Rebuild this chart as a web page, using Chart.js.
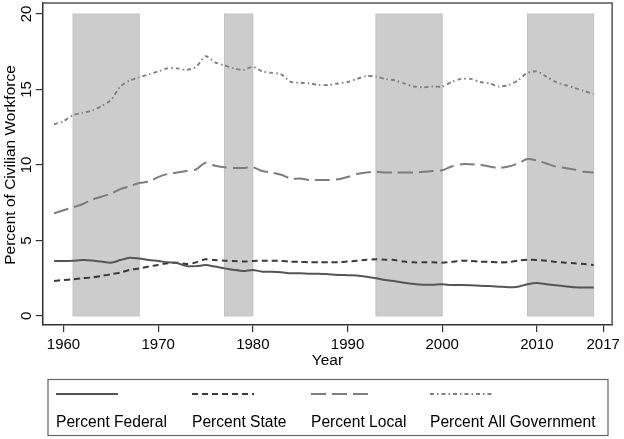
<!DOCTYPE html>
<html>
<head>
  <meta charset="UTF-8">
  <title>Government Employment</title>
  <script src="https://cdn.jsdelivr.net/npm/chart.js"></script>
  <style>
    body { margin: 0; background: #fff; }
  </style>
</head>
<body>
  <canvas id="govChart" width="624" height="439"></canvas>

  <script>
    const years = [];
    for (let y = 1959; y <= 2016; y++) years.push(y);

    const federal = [3.64, 3.64, 3.66, 3.70, 3.68, 3.60, 3.53, 3.70, 3.86, 3.80,
      3.70, 3.64, 3.55, 3.50, 3.30, 3.30, 3.37, 3.27, 3.15, 3.05,
      2.98, 3.05, 2.93, 2.93, 2.90, 2.83, 2.83, 2.80, 2.80, 2.76,
      2.72, 2.70, 2.68, 2.60, 2.50, 2.38, 2.30, 2.20, 2.12, 2.07,
      2.07, 2.10, 2.05, 2.05, 2.03, 2.00, 1.98, 1.94, 1.90, 1.94,
      2.10, 2.18, 2.10, 2.03, 1.96, 1.90, 1.88, 1.88];
    const state = [2.32, 2.38, 2.43, 2.50, 2.55, 2.65, 2.76, 2.87, 3.05, 3.15,
      3.27, 3.38, 3.49, 3.53, 3.44, 3.55, 3.75, 3.70, 3.66, 3.64,
      3.60, 3.64, 3.66, 3.66, 3.64, 3.60, 3.58, 3.56, 3.56, 3.55,
      3.56, 3.60, 3.66, 3.73, 3.75, 3.73, 3.70, 3.60, 3.55, 3.55,
      3.55, 3.53, 3.58, 3.66, 3.64, 3.60, 3.58, 3.55, 3.56, 3.66,
      3.73, 3.71, 3.66, 3.58, 3.53, 3.49, 3.44, 3.38];
    const local = [6.8, 7.0, 7.2, 7.4, 7.7, 7.9, 8.1, 8.4, 8.6, 8.8,
      8.9, 9.2, 9.4, 9.5, 9.6, 9.7, 10.15, 9.95, 9.85, 9.8,
      9.8, 9.85, 9.6, 9.5, 9.35, 9.1, 9.1, 9.0, 9.0, 9.0,
      9.05, 9.2, 9.4, 9.5, 9.55, 9.5, 9.5, 9.5, 9.5, 9.55,
      9.6, 9.65, 9.9, 10.05, 10.05, 10.0, 9.9, 9.8, 9.9, 10.1,
      10.4, 10.3, 10.1, 9.9, 9.8, 9.7, 9.55, 9.5];
    const allGov = [12.7, 12.9, 13.3, 13.45, 13.6, 13.9, 14.3, 15.2, 15.6, 15.8,
      16.0, 16.2, 16.4, 16.4, 16.3, 16.5, 17.2, 16.8, 16.6, 16.4,
      16.3, 16.5, 16.2, 16.1, 16.0, 15.5, 15.45, 15.4, 15.3, 15.3,
      15.4, 15.5, 15.7, 15.9, 15.85, 15.7, 15.6, 15.4, 15.2, 15.15,
      15.2, 15.2, 15.5, 15.7, 15.7, 15.5, 15.4, 15.2, 15.3, 15.6,
      16.1, 16.2, 15.85, 15.5, 15.3, 15.1, 14.9, 14.7];

    // shaded periods
    const shadeStart = [1961, 1977, 1993, 2009];
    const shadeEnd = [1968, 1980, 2000, 2016];
    const shadeTop = 20;

    const xTicks = [1960, 1970, 1980, 1990, 2000, 2010, 2017];
    const yTicks = [0, 5, 10, 15, 20];

    const FONT = 'Liberation Sans, Arial, Helvetica, sans-serif';

    function toPoints(vals) {
      return vals.map((v, i) => ({ x: years[i], y: v }));
    }

    const shadePlugin = {
      id: 'shade',
      beforeDatasetsDraw(chart) {
        const { ctx, scales: { x, y } } = chart;
        ctx.save();
        for (let i = 0; i < shadeStart.length; i++) {
          const x0 = x.getPixelForValue(shadeStart[i]);
          const x1 = x.getPixelForValue(shadeEnd[i]);
          const y0 = y.getPixelForValue(shadeTop);
          const y1 = y.getPixelForValue(0);
          ctx.fillStyle = '#cccccc';
          ctx.fillRect(x0, y0, x1 - x0, y1 - y0);
          ctx.strokeStyle = '#c2c2c2';
          ctx.lineWidth = 1;
          ctx.strokeRect(x0, y0, x1 - x0, y1 - y0);
        }
        ctx.restore();
      },
      afterDraw(chart) {
        const { ctx, chartArea: a, scales: { x, y } } = chart;
        ctx.save();
        // top and right frame
        ctx.strokeStyle = '#555';
        ctx.lineWidth = 1.5;
        ctx.beginPath();
        ctx.moveTo(a.left, a.top);
        ctx.lineTo(a.right, a.top);
        ctx.lineTo(a.right, a.bottom);
        ctx.stroke();

        // rotated y tick labels
        ctx.fillStyle = '#000';
        ctx.font = '15px ' + FONT;
        ctx.textAlign = 'center';
        ctx.textBaseline = 'middle';
        yTicks.forEach(t => {
          ctx.save();
          ctx.translate(27, y.getPixelForValue(t));
          ctx.rotate(-Math.PI / 2);
          ctx.fillText(String(t), 0, 0);
          ctx.restore();
        });

        // y title
        ctx.save();
        ctx.translate(11, 165);
        ctx.rotate(-Math.PI / 2);
        ctx.font = '15.5px ' + FONT;
        ctx.fillText('Percent of Civilian Workforce', 0, 0);
        ctx.restore();

        // x title
        ctx.font = '15.5px ' + FONT;
        ctx.fillText('Year', (a.left + a.right) / 2, 361);

        // legend box
        ctx.strokeStyle = '#666';
        ctx.lineWidth = 1.2;
        ctx.strokeRect(48, 379.5, 560, 56);
        const cols = [56, 192, 311, 430];
        chart.data.datasets.forEach((ds, i) => {
          ctx.save();
          ctx.strokeStyle = ds.borderColor;
          ctx.lineWidth = ds.borderWidth;
          ctx.setLineDash(ds.borderDash || []);
          ctx.beginPath();
          ctx.moveTo(cols[i], 394);
          ctx.lineTo(cols[i] + 62, 394);
          ctx.stroke();
          ctx.restore();
          ctx.fillStyle = '#000';
          ctx.textAlign = 'left';
          ctx.font = '15.6px ' + FONT;
          ctx.fillText(ds.label, cols[i], 423);
        });
        ctx.restore();
      }
    };

    const ctx = document.getElementById('govChart').getContext('2d');

    new Chart(ctx, {
      type: 'line',
      data: {
        datasets: [
          { label: 'Percent Federal', data: toPoints(federal), borderColor: '#555', borderWidth: 2, borderDash: [] },
          { label: 'Percent State', data: toPoints(state), borderColor: '#3a3a3a', borderWidth: 2, borderDash: [6, 4] },
          { label: 'Percent Local', data: toPoints(local), borderColor: '#7d7d7d', borderWidth: 2, borderDash: [15, 6] },
          { label: 'Percent All Government', data: toPoints(allGov), borderColor: '#808080', borderWidth: 1.9, borderDash: [4, 3, 1.5, 3] }
        ]
      },
      options: {
        responsive: false,
        animation: false,
        layout: { padding: { top: 3, right: 11, left: 0, bottom: 0 } },
        elements: {
          point: { radius: 0 },
          line: { tension: 0.25, fill: false }
        },
        scales: {
          x: {
            type: 'linear',
            min: 1957.8,
            max: 2017.95,
            afterFit: s => { s.height = 114; },
            afterBuildTicks: s => { s.ticks = xTicks.map(v => ({ value: v })); },
            grid: { drawOnChartArea: false, drawTicks: true, tickLength: 7, color: '#333', lineWidth: 1.2 },
            border: { display: true, color: '#333', width: 1.5 },
            ticks: {
              color: '#000',
              font: { family: FONT, size: 15 },
              padding: 4,
              maxRotation: 0,
              autoSkip: false,
              callback: v => String(v)
            }
          },
          y: {
            min: -0.6,
            max: 20.73,
            afterFit: s => { s.width = 42.7; },
            afterBuildTicks: s => { s.ticks = yTicks.map(v => ({ value: v })); },
            grid: { drawOnChartArea: false, drawTicks: true, tickLength: 7, color: '#333', lineWidth: 1.2 },
            border: { display: true, color: '#333', width: 1.5 },
            ticks: { display: false }
          }
        },
        plugins: {
          legend: { display: false },
          tooltip: { enabled: false }
        }
      },
      plugins: [shadePlugin]
    });
  </script>
</body>
</html>
